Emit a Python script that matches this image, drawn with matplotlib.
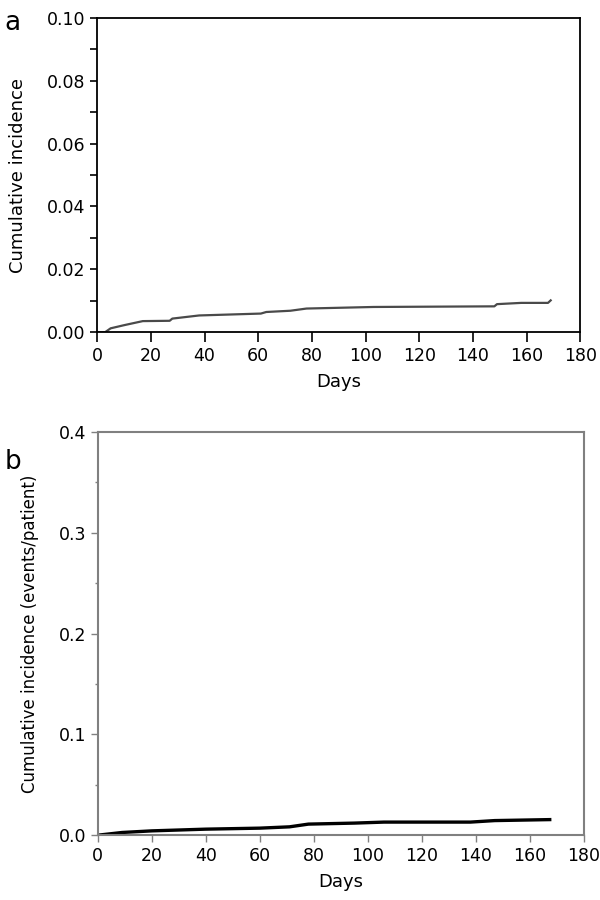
import matplotlib.pyplot as plt
from matplotlib.ticker import MultipleLocator, FormatStrFormatter

# ── Data ─────────────────────────────────────────────────────────────────────
days_a = [0, 3, 5, 10, 17, 27, 28, 38, 61, 63, 72, 78, 103, 148, 149, 158, 168, 169]
inc_a = [0.0, 0.0, 0.0012, 0.0022, 0.0035, 0.0036, 0.0043, 0.0053, 0.0059,
         0.0064, 0.0068, 0.0075, 0.0080, 0.0082, 0.0089, 0.0093, 0.0093, 0.0101]

days_b = [0, 9, 20, 40, 60, 71, 78, 95, 106, 138, 147, 168]
inc_b = [0.0, 0.0027, 0.0043, 0.0060, 0.0070, 0.0083, 0.0110, 0.0120,
         0.0130, 0.0130, 0.0145, 0.0155]

x_ticks = list(range(0, 181, 20))

plt.rcParams['font.family'] = ['DejaVu Sans']

fig = plt.figure(figsize=(6, 9), dpi=100)

# ── Panel a ───────────────────────────────────────────────────────────────────
ax1 = fig.add_axes([0.162, 0.631, 0.805, 0.349])
ax1.plot(days_a, inc_a, color="#4a4a4a", lw=1.6)
ax1.set_xlim(0, 180)
ax1.set_ylim(0, 0.10)
ax1.set_xticks(x_ticks)
ax1.yaxis.set_major_locator(MultipleLocator(0.02))
ax1.yaxis.set_minor_locator(MultipleLocator(0.01))
ax1.yaxis.set_major_formatter(FormatStrFormatter("%.2f"))
ax1.tick_params(axis="both", which="both", direction="out", width=1.2,
                labelsize=12.5, colors="black")
ax1.tick_params(axis="y", which="both", length=5)
ax1.tick_params(axis="x", which="major", length=7)
for s in ax1.spines.values():
    s.set_linewidth(1.3)
ax1.set_xlabel("Days", fontsize=13, labelpad=6)
ax1.set_ylabel("Cumulative incidence", fontsize=13, labelpad=14)
fig.text(0.008, 0.975, "a", fontsize=19, va="center", ha="left")

# ── Panel b ───────────────────────────────────────────────────────────────────
ax2 = fig.add_axes([0.163, 0.072, 0.81, 0.448])
ax2.plot(days_b, inc_b, color="black", lw=2.4, solid_capstyle="butt")
ax2.set_xlim(0, 180)
ax2.set_ylim(0, 0.4)
ax2.set_xticks(x_ticks)
ax2.yaxis.set_major_locator(MultipleLocator(0.1))
ax2.yaxis.set_minor_locator(MultipleLocator(0.05))
ax2.yaxis.set_major_formatter(FormatStrFormatter("%.1f"))
ax2.tick_params(axis="both", which="major", direction="out", length=5,
                width=1, color="#808080", labelsize=12.5, labelcolor="black")
ax2.tick_params(axis="y", which="minor", direction="out", length=2,
                width=1, color="#808080")
for s in ax2.spines.values():
    s.set_color("#808080")
    s.set_linewidth(1.5)
ax2.set_xlabel("Days", fontsize=13, labelpad=6)
ax2.set_ylabel("Cumulative incidence (events/patient)", fontsize=12, labelpad=14)
fig.text(0.008, 0.487, "b", fontsize=19, va="center", ha="left")

plt.savefig("out.png", dpi=100)
plt.close()
